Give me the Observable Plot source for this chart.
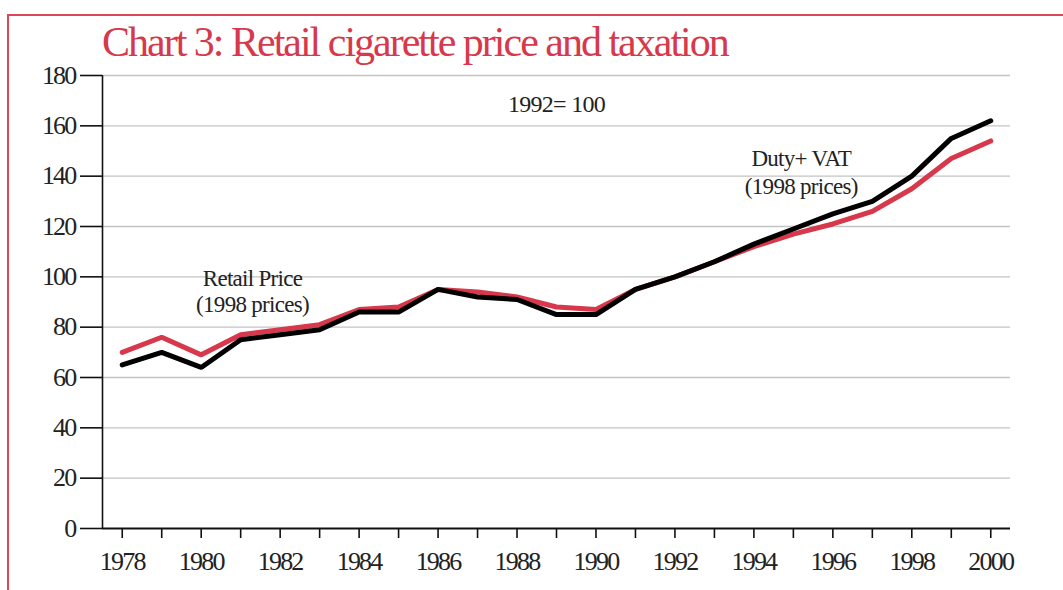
<!DOCTYPE html>
<html>
<head>
<meta charset="utf-8">
<script src="https://cdn.jsdelivr.net/npm/d3@7"></script>
<script src="https://cdn.jsdelivr.net/npm/@observablehq/plot@0.6"></script>
<style>
  html, body { margin: 0; padding: 0; background: #fff; }
  #wrap { position: relative; width: 1063px; height: 590px; overflow: hidden; font-family: "Liberation Serif", serif; }
  #frame { position: absolute; left: 7px; top: 14px; width: 1070px; height: 600px; border: 2px solid #dc4658; box-sizing: border-box; }
  #title { position: absolute; left: 102px; top: 18px; font-size: 42px; color: #d7384b; letter-spacing: -2px; white-space: nowrap; }
  #chart { position: absolute; left: 0; top: 0; }
</style>
</head>
<body>
<div id="wrap">
  <div id="frame"></div>
  <div id="title">Chart 3: Retail cigarette price and taxation</div>
  <div id="chart"></div>
</div>
<script>
const years = d3.range(1978, 2001);
const retailPrice = [70, 76, 69, 77, 79, 81, 87, 88, 95, 94, 92, 88, 87, 95, 100, 106, 112, 117, 121, 126, 135, 147, 154];
const dutyVat =     [65, 70, 64, 75, 77, 79, 86, 86, 95, 92, 91, 85, 85, 95, 100, 106, 113, 119, 125, 130, 140, 155, 162];
const yTicks = [0, 20, 40, 60, 80, 100, 120, 140, 160, 180];
const xLabelYears = [1978, 1980, 1982, 1984, 1986, 1988, 1990, 1992, 1994, 1996, 1998, 2000];

const retailRows = years.map((y, i) => ({year: y, value: retailPrice[i]}));
const dutyRows = years.map((y, i) => ({year: y, value: dutyVat[i]}));

const fontFam = '"Liberation Serif", serif';

const plot = Plot.plot({
  width: 1063,
  height: 590,
  marginLeft: 102,
  marginRight: 53,
  marginTop: 75,
  marginBottom: 62,
  style: {fontFamily: fontFam, background: "transparent", overflow: "visible"},
  x: {domain: [1977.5, 2000.5], axis: null, label: null},
  y: {domain: [0, 180], axis: null, label: null},
  marks: [
    Plot.gridY(yTicks.filter(d => d > 0), {stroke: "#c4c4c4", strokeOpacity: 1, strokeWidth: 1.3}),
    Plot.axisY(yTicks, {label: null, tickSize: 22, tickPadding: 5, fontSize: 26, stroke: "#111", strokeWidth: 1.6, fill: "#222", tickFormat: d => String(d)}),
    Plot.ruleX([1977.5], {stroke: "#111", strokeWidth: 1.6}),
    Plot.ruleY([0], {stroke: "#111", strokeWidth: 2}),
    Plot.axisX(years, {label: null, tickSize: 10, tickPadding: 0, stroke: "#111", strokeWidth: 1.6, text: null}),
    Plot.text(xLabelYears, {x: d => d, frameAnchor: "bottom", dy: 33, text: d => String(d), fontSize: 26, fill: "#222", lineAnchor: "middle"}),
    Plot.line(retailRows, {x: "year", y: "value", stroke: "#d7384b", strokeWidth: 5, strokeLinejoin: "miter"}),
    Plot.line(dutyRows, {x: "year", y: "value", stroke: "#000", strokeWidth: 5, strokeLinejoin: "miter"}),
    Plot.text(["1992= 100"], {x: 1989.0, y: 168.5, fontSize: 24, fill: "#222"}),
    Plot.text(["Retail Price\n(1998 prices)"], {x: 1981.3, y: 94.6, fontSize: 23, lineHeight: 1.15, fill: "#222"}),
    Plot.text(["Duty+ VAT\n(1998 prices)"], {x: 1995.2, y: 141.9, fontSize: 23, lineHeight: 1.2, fill: "#222"})
  ]
});
d3.select(plot).selectAll("text").each(function() {
  const t = this.textContent;
  this.style.letterSpacing = /^\d+$/.test(t) ? "-1.8px" : "-0.7px";
});
document.getElementById("chart").appendChild(plot);
</script>
</body>
</html>
